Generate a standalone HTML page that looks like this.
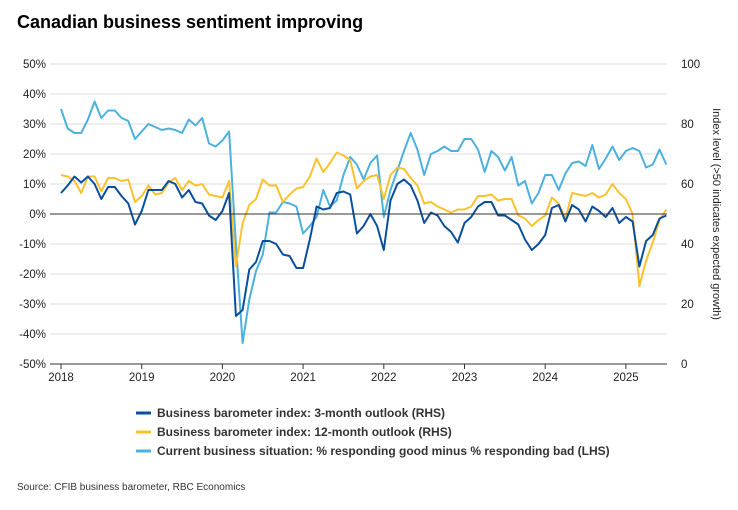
<!DOCTYPE html>
<html><head><meta charset="utf-8"><style>
body{margin:0;background:#fff;font-family:"Liberation Sans",Arial,sans-serif;}
svg text{font-family:"Liberation Sans",Arial,sans-serif;}
</style></head><body>
<svg id="chart" width="738" height="505" xmlns="http://www.w3.org/2000/svg">
<text x="17" y="28" font-size="18" font-weight="bold" fill="#000">Canadian business sentiment improving</text>
<g id="grid"></g><g id="series"></g><g id="axes"></g>
<text transform="translate(713,214) rotate(90)" text-anchor="middle" font-size="11" fill="#222">Index level (&gt;50 indicates expected growth)</text>
<g>
<g><line x1="136" y1="413" x2="151" y2="413" stroke="#0a4f9e" stroke-width="3"/><text x="157" y="417" font-size="12" font-weight="bold" fill="#333">Business barometer index: 3-month outlook (RHS)</text></g>
<g><line x1="136" y1="432" x2="151" y2="432" stroke="#fcc22d" stroke-width="3"/><text x="157" y="436" font-size="12" font-weight="bold" fill="#333">Business barometer index: 12-month outlook (RHS)</text></g>
<g><line x1="136" y1="451" x2="151" y2="451" stroke="#4cb1dd" stroke-width="3"/><text x="157" y="455" font-size="12" font-weight="bold" fill="#333">Current business situation: % responding good minus % responding bad (LHS)</text></g>
</g>
<text x="17" y="490" font-size="10" fill="#333">Source: CFIB business barometer, RBC Economics</text>
</svg>
<script>
const leftTicks=["50%","40%","30%","20%","10%","0%","-10%","-20%","-30%","-40%","-50%"];
const leftTickValues=[50,40,30,20,10,0,-10,-20,-30,-40,-50];
const rightTicks=["100","80","60","40","20","0"];
const rightTickValues=[100,80,60,40,20,0];
const years=["2018","2019","2020","2021","2022","2023","2024","2025"];
const current=[35,28.5,27,27,31.5,37.5,32,34.5,34.5,32,31,25,
27.5,30,29,28,28.5,28,27,31.5,29.5,32,23.5,22.5,
24.5,27.5,-10,-43,-28.5,-19,-13.5,0.5,0.5,4,3.5,2.5,
-6.5,-4,-1,8,2.5,4.5,13,19,16.5,11.5,17,19.5,
-1,8,14.5,21,27,21.5,13,20,21,22.5,21,21,
25,25,21.5,14,21,19,14.5,19,9.5,11,3.5,7,
13,13,8,13.5,17,17.5,16,23,15,18.5,22.5,18,
21,22,21,15.5,16.5,21.5,16.5];
const threeMonth=[57,59.5,62.5,60.5,62.5,60,55,59,59,56,53.5,46.5,
51,58,58,58,61,60,55.5,58,54,53.5,49.5,48,
51,57,16,18,31.5,34,41,41,40,36.5,36,32,
32,41.5,52.5,51.5,52,57,57.5,56.5,43.5,46,50,46,
38,54.5,60,61.5,59.5,54.5,47,50.5,49.5,46,44,40.5,
47,49,52.5,54,54,49.5,49.5,48,46.5,41.5,38,40,
43,52,53,47.5,53,51.5,47.5,52.5,51,49,52,47,
49,47.5,32.5,41,43,48.5,49.5];
const twelveMonth=[63,62.5,61,57,62.5,62.5,57.5,62,62,61,61.5,54,
56,59.5,56.5,57,60.5,62,58,61,59.5,60,56.5,56,
55.5,61,32.5,47,53,55,61.5,59.5,59.5,54,56.5,58.5,
59,62.5,68.5,64,67,70.5,69.5,68,58.5,61,62.5,63,
55,63,65.5,65,62,59.5,53.5,54,52.5,51.5,50.5,51.5,
51.5,52.5,56,56,56.5,54.5,55,55,49.5,48.5,46,48,
49.5,55.5,53.5,48.5,57,56.5,56,57,55.5,56.5,60,57,
55,50,26,34.5,40.5,48,51.5];
const NS="http://www.w3.org/2000/svg";
const X0=61,MONTH=80.7/12,YT=64,YB=364,XL=50,XR=667;
const xM=i=>X0+i*MONTH;
const yL=v=>214-v*3;
const yR=v=>YB-(v/100)*(YB-YT);
function mk(tag,attrs,parent){const e=document.createElementNS(NS,tag);for(const k in attrs)e.setAttribute(k,attrs[k]);parent.appendChild(e);return e;}
const grid=document.getElementById('grid'),axes=document.getElementById('axes'),series=document.getElementById('series');
leftTickValues.forEach((v,i)=>{
 if(v!==-50&&v!==0){const l=mk('line',{x1:XL,x2:XR,y1:yL(v),y2:yL(v),stroke:'#ddd','stroke-width':1},grid);
 
 }
 const t=mk('text',{x:46,y:yL(v)+4,'text-anchor':'end','font-size':11.5,fill:'#222'},axes);t.textContent=leftTicks[i];
 
 
});
rightTickValues.forEach((v,i)=>{
 const t=mk('text',{x:681,y:yR(v)+4,'font-size':11.5,fill:'#222'},axes);t.textContent=rightTicks[i];
 
 
});
const zl=mk('line',{x1:XL,x2:XR,y1:yL(0),y2:yL(0),stroke:'#333','stroke-width':1},axes);


const xa=mk('line',{x1:XL,x2:XR,y1:YB,y2:YB,stroke:'#333','stroke-width':1},axes);


years.forEach((y,i)=>{
 const x=xM(i*12);
 mk('line',{x1:x,x2:x,y1:YB,y2:YB+5,stroke:'#333'},axes);
 const t=mk('text',{x:x,y:YB+17,'text-anchor':'middle','font-size':11.5,fill:'#222'},axes);t.textContent=y;
 
 
});
function line(vals,yf,color,name){
 const d=vals.map((v,i)=>(i?'L':'M')+xM(i).toFixed(1)+','+yf(v).toFixed(1)).join('');
 const p=mk('path',{d:d,fill:'none',stroke:color,'stroke-width':2,'stroke-linejoin':'round'},series);
 
 
}
line(current,yL,'#4cb1dd','current-situation-line');
line(twelveMonth,yR,'#fcc22d','twelve-month-outlook-line');
line(threeMonth,yR,'#0a4f9e','three-month-outlook-line');
</script>
</body></html>
